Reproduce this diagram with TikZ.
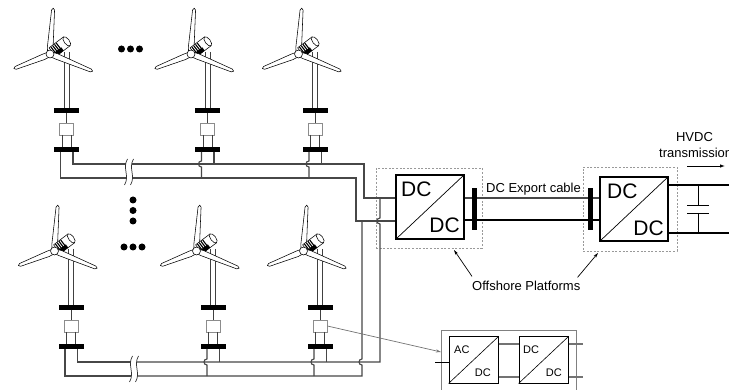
\documentclass[tikz,border=0pt]{standalone}
\usepackage{fontspec}
\setmainfont{Liberation Sans}
\usetikzlibrary{arrows.meta}

% one rotor blade along +x, root at the hub centre
\newcommand\bladepath[1]{%
  \draw[bladeshape] (0,-2.4) -- (7,-3.1) -- (#1-2,-1.5)
    .. controls (#1+0.6,-1.5) and (#1+0.6,1.5) .. (#1-2,1.5)
    -- (7,2.6) -- (0,2.4) -- cycle;}

\tikzset{
  wire/.style={draw=black!72, line width=1.1pt},
  tline/.style={draw=black!75, line width=0.7pt},
  bladeshape/.style={fill=white, draw=black, line width=0.55pt, line join=round},
  tbox/.style={draw=black!45, fill=white, line width=0.8pt, minimum width=14pt,
    minimum height=12pt, inner sep=0pt},
  conv/.style={draw=black, line width=1.1pt, fill=white, inner sep=0pt},
  platform/.style={draw=black!40, dash pattern=on 2pt off 1.6pt, line width=0.7pt,
    inner sep=0pt},
  vbar/.style={fill=black, inner sep=0pt, minimum width=5pt, minimum height=42pt},
  dot/.style={circle, fill=black, inner sep=0pt, minimum size=7pt},
  txt/.style={inner sep=0pt, font=\fontsize{13}{15}\selectfont},
  bigtxt/.style={inner sep=0pt, font=\fontsize{21}{21}\selectfont},
  smalltxt/.style={inner sep=0pt, font=\fontsize{11}{11}\selectfont},
  % wind turbine with its two busbars and converter; origin = tower axis at hub height
  turbine/.pic={
    \draw[tline] (-2.5,-2) -- (-2.5,54) (2.5,-2) -- (2.5,54);
    \begin{scope}[shift={(-16.5,0)}]
      \begin{scope}[rotate=86] \bladepath{46} \end{scope}
      \begin{scope}[rotate=202] \bladepath{39} \end{scope}
      \begin{scope}[rotate=37]
        \draw[bladeshape] (3,-5.5) rectangle (21,5.5);
        \draw[bladeshape] (21,0) ellipse[x radius=2.6pt, y radius=5.5pt];
        \foreach \k in {5,7.2,9.4,11.6} \draw[line width=1.1pt] (\k,-5) -- (\k,5);
        \fill (3,1.5) rectangle (13,5.5);
      \end{scope}
      \begin{scope}[rotate=-22] \bladepath{46} \end{scope}
      \draw[bladeshape] (0,0) circle[radius=4pt];
    \end{scope}
    \fill (-12.5,54) rectangle (12.5,59);
    \draw[tline] (0,59) -- (0,69);
    \node[tbox] (-box) at (0,75) {};
    \draw[tline] (-4.5,81) -- (-4.5,93) (4.5,81) -- (4.5,93);
    \fill (-12.5,93) rectangle (12.5,98);
    \coordinate (-L) at (-6,98);
    \coordinate (-R) at (6.5,98);
  }
}

\begin{document}
\begin{tikzpicture}[x=1pt,y=-1pt]
\useasboundingbox (0,0) rectangle (729,390);

% offshore platforms (dashed outlines)
\node[platform, minimum width=106pt, minimum height=80pt] (plat1) at (429,208) {};
\node[platform, minimum width=94pt, minimum height=84pt] (plat2) at (630,209) {};

% turbines
\pic (t1) at (66.5,54) {turbine};
\pic (t2) at (207.5,54) {turbine};
\pic (t3) at (315,54) {turbine};
\pic (b1) at (71,251) {turbine};
\pic (b2) at (213,251) {turbine};
\pic (b3) at (320,251) {turbine};

% "more turbines" dots
\node[dot] (d1) at (121.5,49) {};
\node[dot] (d2) at (130.5,49) {};
\node[dot] (d3) at (139.5,49) {};
\node[dot] (d4) at (133,200) {};
\node[dot] (d5) at (133,210.5) {};
\node[dot] (d6) at (133,221) {};
\node[dot] (d7) at (124,247) {};
\node[dot] (d8) at (133,247) {};
\node[dot] (d9) at (142,247) {};

% converters on the platforms
\node[conv, minimum width=68pt, minimum height=64pt] (dc1) at (430,207) {};
\draw[line width=0.7pt] (dc1.south west) -- (dc1.north east);
\node[bigtxt, anchor=base west] (dc1-a) at (401,197) {DC};
\node[bigtxt, anchor=base east] (dc1-b) at (460,233) {DC};

\node[conv, minimum width=68pt, minimum height=64pt] (dc2) at (634,209) {};
\draw[line width=0.7pt] (dc2.south west) -- (dc2.north east);
\node[bigtxt, anchor=base west] (dc2-a) at (607,199) {DC};
\node[bigtxt, anchor=base east] (dc2-b) at (664,236) {DC};

% collector feeders, top row
\coordinate (brkTa) at (126,164);
\coordinate (brkTb) at (132,164);
\coordinate (brkTc) at (126,178);
\coordinate (brkTd) at (132,178);
\draw[wire] (t1-R) |- (brkTa);
\draw[wire] (brkTb) -- (364,164) |- (dc1.west |- 0,198);
\draw[wire] (t1-L) |- (brkTc);
\draw[wire] (brkTd) -- (356,178) |- (dc1.west |- 0,221);
\draw[wire] (t2-R) -- (t2-R |- 0,164);
\draw[wire] (t3-R) -- (t3-R |- 0,164);
\draw[wire] (t2-L) -- (t2-L |- 0,161) .. controls +(-4,0) and +(-4,0) .. (t2-L |- 0,167) -- (t2-L |- 0,178);
\draw[wire] (t3-L) -- (t3-L |- 0,161) .. controls +(-4,0) and +(-4,0) .. (t3-L |- 0,167) -- (t3-L |- 0,178);

% collector feeders, bottom row
\coordinate (brkBa) at (131,362);
\coordinate (brkBb) at (137,362);
\coordinate (brkBc) at (131,376);
\coordinate (brkBd) at (137,376);
\draw[wire] (b1-R) |- (brkBa);
\draw[wire] (brkBb) -- (380,362) -- (380,224) .. controls +(-4,0) and +(-4,0) .. (380,218) -- (380,198);
\draw[wire] (b1-L) |- (brkBc);
\draw[wire] (brkBd) -- (362,376) -- (362,365) .. controls +(-4,0) and +(-4,0) .. (362,359) -- (362,221);
\draw[wire] (b2-R) -- (b2-R |- 0,362);
\draw[wire] (b3-R) -- (b3-R |- 0,362);
\draw[wire] (b2-L) -- (b2-L |- 0,359) .. controls +(-4,0) and +(-4,0) .. (b2-L |- 0,365) -- (b2-L |- 0,376);
\draw[wire] (b3-L) -- (b3-L |- 0,359) .. controls +(-4,0) and +(-4,0) .. (b3-L |- 0,365) -- (b3-L |- 0,376);

% cable break marks
\foreach \bx/\ya/\yb in {126/159/185, 132/159/185, 131/356/382, 137/356/382}
  \draw[draw=black!80, line width=0.7pt] (\bx+1.5,\ya) .. controls (\bx-4,\ya+9) and (\bx+4,\yb-9) .. (\bx-1.5,\yb);

% DC export cable with busbars
\draw[wire] (dc1.east |- 0,198) -- (dc2.west |- 0,198);
\draw[wire, draw=black] (dc1.east |- 0,220) -- (dc2.west |- 0,220);
\node[vbar] (bar1) at (474.5,209) {};
\node[vbar] (bar2) at (590.5,209) {};
\node[txt, anchor=base west] (lbl-exp) at (486,193) {DC Export cable};

% onshore side: output lines and filter capacitor
\coordinate (outU) at (732,185);
\coordinate (outL) at (732,233);
\draw[wire, draw=black] (dc2.east |- 0,185) -- (outU);
\draw[wire, draw=black] (dc2.east |- 0,233) -- (outL);
\coordinate (capU) at (698,185);
\coordinate (capL) at (698,233);
\draw[line width=0.8pt] (capU) -- (698,205) (687,205) -- (709,205)
  (687,213) -- (709,213) (698,213) -- (capL);
\node[txt, anchor=base] (lbl-hv) at (694.5,142) {HVDC};
\node[txt, anchor=base west] (lbl-tr) at (659,158) {transmission};
\coordinate (hvA) at (687,166);
\coordinate (hvB) at (725,166);
\draw[line width=0.8pt, -{Latex[length=5pt,width=3.5pt]}] (hvA) -- (hvB);

% platform label
\node[txt, anchor=base west] (lbl-off) at (472,291) {Offshore Platforms};
\coordinate (pl1tip) at (454,250);
\coordinate (pl2tip) at (598,253);
\draw[line width=0.7pt, -{Stealth[length=5pt,width=3pt]}] ([yshift=5pt]lbl-off.north west) -- (pl1tip);
\draw[line width=0.7pt, -{Stealth[length=5pt,width=3pt]}] ([xshift=-3pt,yshift=4pt]lbl-off.north east) -- (pl2tip);

% turbine converter detail
\draw[draw=black!50, line width=0.9pt] (441,396) -- (441,330) -- (576,330) -- (576,396);
\node[conv, line width=1pt, minimum width=49pt, minimum height=46pt] (acdc) at (473.5,360) {};
\draw[line width=0.6pt] (acdc.south west) -- (acdc.north east);
\node[smalltxt, anchor=base west] (acdc-a) at (454,353) {AC};
\node[smalltxt, anchor=base east] (acdc-b) at (491,377) {DC};
\node[conv, line width=1pt, minimum width=49pt, minimum height=46pt] (dcdc) at (543.5,360) {};
\draw[line width=0.6pt] (dcdc.south west) -- (dcdc.north east);
\node[smalltxt, anchor=base west] (dcdc-a) at (523,353) {DC};
\node[smalltxt, anchor=base east] (dcdc-b) at (562,377) {DC};
\draw[draw=black!55, line width=1.6pt] (acdc.east |- 0,344) -- (dcdc.west |- 0,344);
\draw[draw=black!55, line width=1.6pt] (acdc.east |- 0,377) -- (dcdc.west |- 0,377);
\coordinate (cvoU) at (583,344);
\coordinate (cvoL) at (583,377);
\draw[draw=black!55, line width=1.6pt] (dcdc.east |- 0,344) -- (cvoU);
\draw[draw=black!55, line width=1.6pt] (dcdc.east |- 0,377) -- (cvoL);
\coordinate (cvin) at (435,362);
\draw[line width=0.8pt] (cvin) -- (acdc.west |- 0,362);
\coordinate (cvtip) at (441,352);
\draw[draw=black!55, line width=0.7pt, -{Stealth[length=5pt,width=3pt]}] (b3-box.east) -- (cvtip);

\end{tikzpicture}
\end{document}
